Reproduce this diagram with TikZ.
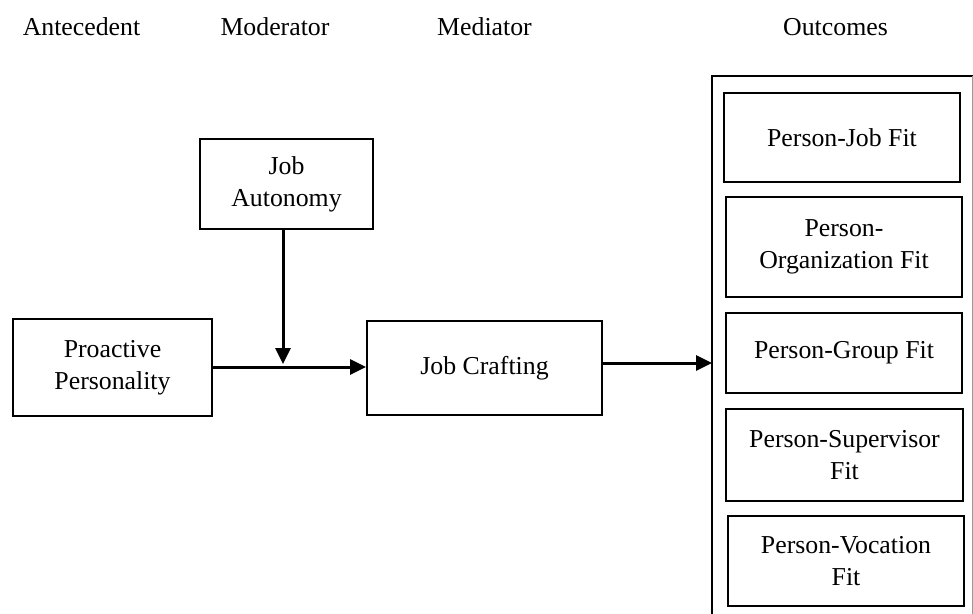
\documentclass[tikz,border=0pt]{standalone}
\usepackage{fontspec}
\setmainfont{Liberation Serif}
\usetikzlibrary{arrows.meta}
\begin{document}
\begin{tikzpicture}[x=1pt,y=-1pt,
  txt/.style={font=\fontsize{25.8}{32}\selectfont, inner sep=0pt},
  hdr/.style={txt, anchor=base},
  box/.style={draw, line width=2pt, inner sep=0pt, align=center, txt},
  arr/.style={line width=3pt, -{Triangle[length=16pt,width=15pt]}}
]
\useasboundingbox (0,0) rectangle (973,613);
% headers
\node[hdr] (h1) at (81.5,35) {Antecedent};
\node[hdr] (h2) at (275,35) {Moderator};
\node[hdr] (h3) at (484.5,35) {Mediator};
\node[hdr] (h4) at (835.5,35) {Outcomes};
% left boxes
\node[box, minimum width=173pt, minimum height=90pt] (ja) at (286.5,184) {Job\\Autonomy};
\node[box, minimum width=199pt, minimum height=97pt] (pp) at (112.5,367.5) {Proactive\\Personality};
\node[box, minimum width=235pt, minimum height=94pt] (jc) at (484.5,368) {Job Crafting};
% outer box
\draw[line width=2pt] (973.5,76) -- (712,76) -- (712,616);
\draw[line width=1.2pt, black!40] (973,76) -- (973,616);
\coordinate (outin) at (712,363);
% outcome boxes
\node[box, minimum width=236pt, minimum height=89pt] (pj) at (842,137.5) {Person-Job Fit};
\node[box, minimum width=236pt, minimum height=100pt] (po) at (844,247) {Person-\\Organization Fit};
\node[box, minimum width=236pt, minimum height=80pt] (pg) at (844,353) {Person-Group Fit};
\node[box, minimum width=237pt, minimum height=92pt] (ps) at (844.5,455) {Person-Supervisor\\Fit};
\node[box, minimum width=236pt, minimum height=90pt] (pv) at (846,561) {Person-Vocation\\Fit};
% connectors
\coordinate (mod) at (283,364);
\draw[arr] (pp.east |- 0,367) -- (jc.west |- 0,367);
\draw[arr] (ja.south -| mod) -- (mod);
\draw[arr] (jc.east |- outin) -- (outin);
\end{tikzpicture}
\end{document}
